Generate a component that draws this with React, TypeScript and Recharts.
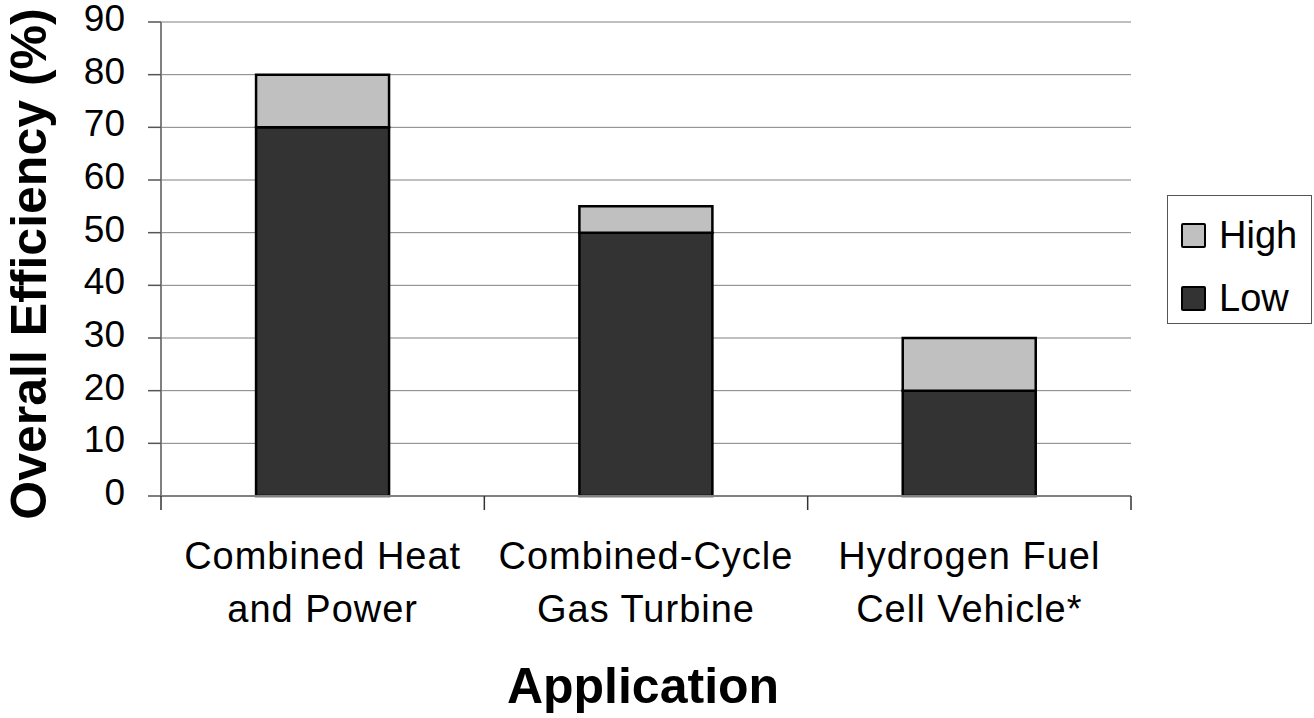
import { BarChart, Bar, XAxis, YAxis, CartesianGrid, Legend } from 'recharts'

const categories = ['Combined Heat and Power', 'Combined-Cycle Gas Turbine', 'Hydrogen Fuel Cell Vehicle*']
const categoryLines = [
  ['Combined Heat', 'and Power'],
  ['Combined-Cycle', 'Gas Turbine'],
  ['Hydrogen Fuel', 'Cell Vehicle*'],
]
const lowValues = [70, 50, 20]
// extra on top of low (high totals: 80, 55, 30)
const highValues = [10, 5, 10]
const yTicks = [0, 10, 20, 30, 40, 50, 60, 70, 80, 90]

const data = categories.map((c, i) => ({ name: c, low: lowValues[i], high: highValues[i] }))

const FONT = '"Liberation Sans", Arial, sans-serif'
const LOW_COLOR = '#333333'
const HIGH_COLOR = '#c0c0c0'
const AXIS_GRAY = '#808080'

function YTick(props: any) {
  const { x, y, payload } = props
  return (
    <text x={x} y={y + 9} textAnchor="end" fontSize={37} fill="#000" fontFamily={FONT}>
      {payload.value}
    </text>
  )
}

function XTick(props: any) {
  const { x, y, payload, index } = props
  const half = payload?.offset ?? 161.7
  const lines = categoryLines[index] ?? [String(payload.value)]
  const isLast = index === categories.length - 1
  return (
    <g>
      <line x1={x - half} x2={x - half} y1={y} y2={y + 14} stroke="#333" strokeWidth={1.5} />
      {isLast && <line x1={x + half} x2={x + half} y1={y} y2={y + 14} stroke="#333" strokeWidth={1.5} />}
      {lines.map((l, i) => (
        <text
          key={i}
          x={x}
          y={y + 73 + i * 53}
          textAnchor="middle"
          fontSize={38}
          letterSpacing={1}
          fill="#000"
          fontFamily={FONT}
        >
          {l}
        </text>
      ))}
    </g>
  )
}

function YTitle(props: any) {
  const { viewBox } = props
  const cx = viewBox.x + 46
  const cy = viewBox.y + viewBox.height / 2 + 5
  return (
    <text
      x={cx}
      y={cy}
      transform={`rotate(-90, ${cx}, ${cy})`}
      textAnchor="middle"
      fontSize={50}
      fontWeight="bold"
      fill="#000"
      fontFamily={FONT}
    >
      Overall Efficiency (%)
    </text>
  )
}

function XTitle(props: any) {
  const { viewBox } = props
  return (
    <text
      x={viewBox.x + viewBox.width / 2 - 3}
      y={viewBox.y + 207}
      textAnchor="middle"
      fontSize={50}
      fontWeight="bold"
      fill="#000"
      fontFamily={FONT}
    >
      Application
    </text>
  )
}

function LegendBox() {
  const items = [
    { label: 'High', color: HIGH_COLOR },
    { label: 'Low', color: LOW_COLOR },
  ]
  return (
    <div
      style={{
        width: 145,
        height: 129,
        border: '1.5px solid #555',
        background: '#fff',
        boxSizing: 'border-box',
        paddingTop: 17,
        paddingLeft: 13,
        fontFamily: FONT,
      }}
    >
      {items.map((it) => (
        <div key={it.label} style={{ display: 'flex', alignItems: 'center', height: 45, marginBottom: 18 }}>
          <div
            style={{
              width: 25,
              height: 25,
              background: it.color,
              border: '2px solid #000',
              borderRadius: 2,
              boxSizing: 'border-box',
              marginRight: 13,
            }}
          />
          <span style={{ fontSize: 38, color: '#000', lineHeight: '45px' }}>{it.label}</span>
        </div>
      ))}
    </div>
  )
}

export default function App() {
  return (
    <div style={{ position: 'absolute', left: 0, top: 0, background: '#fff' }}>
      <BarChart
        width={1314}
        height={718}
        data={data}
        margin={{ top: 22, right: 183, bottom: 0, left: 0 }}
        barCategoryGap="29.4%"
      >
        <CartesianGrid vertical={false} stroke={AXIS_GRAY} strokeWidth={1} />
        <XAxis
          dataKey="name"
          height={222}
          tickLine={false}
          tickSize={0}
          tickMargin={0}
          axisLine={{ stroke: AXIS_GRAY, strokeWidth: 2 }}
          tick={<XTick />}
          interval={0}
          label={<XTitle />}
        />
        <YAxis
          width={161}
          domain={[0, 90]}
          ticks={yTicks}
          interval={0}
          tickSize={13}
          tickMargin={23}
          tickLine={{ stroke: '#555', strokeWidth: 1.5 }}
          axisLine={{ stroke: AXIS_GRAY, strokeWidth: 2 }}
          tick={<YTick />}
          label={<YTitle />}
        />
        <YAxis
          yAxisId="frame"
          orientation="right"
          width={0}
          domain={[0, 90]}
          tick={false}
          tickLine={false}
          axisLine={{ stroke: AXIS_GRAY, strokeWidth: 3 }}
        />
        <Legend
          layout="vertical"
          align="center"
          verticalAlign="middle"
          content={<LegendBox />}
          wrapperStyle={{ left: 1167, top: 195, width: 145, height: 129 }}
        />
        <Bar dataKey="low" name="Low" stackId="a" fill={LOW_COLOR} stroke="#000" strokeWidth={2.5} isAnimationActive={false} />
        <Bar dataKey="high" name="High" stackId="a" fill={HIGH_COLOR} stroke="#000" strokeWidth={2.5} isAnimationActive={false} />
      </BarChart>
    </div>
  )
}
